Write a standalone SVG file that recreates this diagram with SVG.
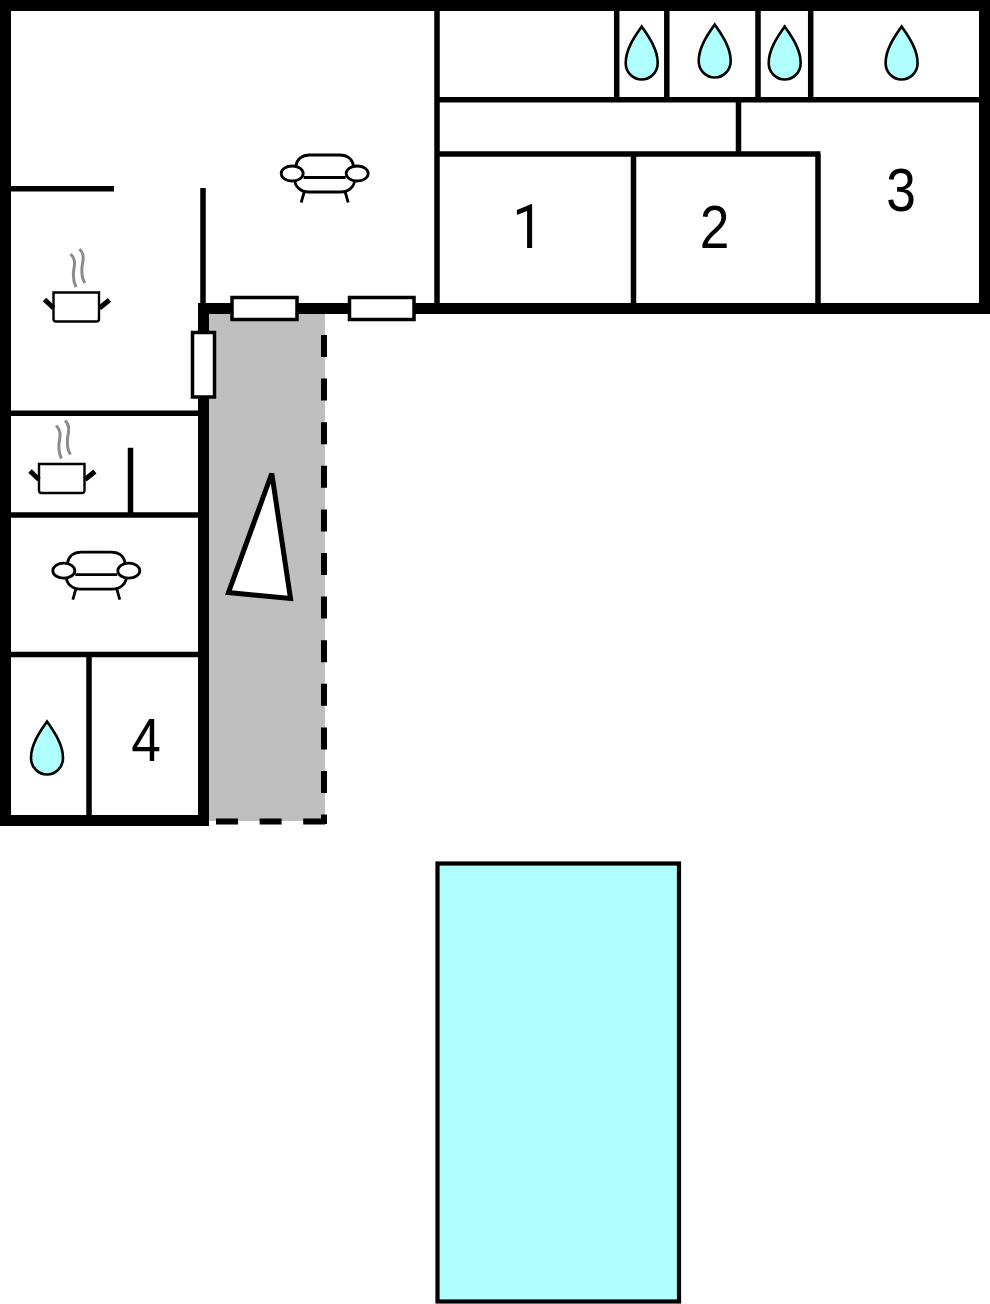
<svg xmlns="http://www.w3.org/2000/svg" width="990" height="1304" viewBox="0 0 990 1304">
<style>
.wall{fill:#000}
.thin{stroke:#000;stroke-width:5.5;fill:none}
.win{fill:#fff;stroke:#000;stroke-width:3.5}
.water{fill:#b0ffff;stroke:#000}
.num{font-family:"Liberation Sans",Arial,sans-serif;font-size:62px;fill:#000;text-anchor:middle}
.one{font-family:Roboto,"Liberation Sans",sans-serif}
.dash{stroke:#000;stroke-width:6;stroke-dasharray:22 21.6;fill:none}
.line{fill:none;stroke:#000;stroke-width:2.8}
.steam{fill:none;stroke:#8c8c8c;stroke-width:3}
</style>
<defs>
<g id="sofa">
<path class="line" d="M-29-7C-28-14-23-18.500-15-18.500H15C23-18.500 28-14 29-7"/>
<path class="line" d="M-30 6C-30 13-24 18.500-16 18.500H16C24 18.500 30 13 30 6"/>
<path class="line" d="M-21 4H21"/>
<path class="line" d="M-20.500 18.500L-23.500 29M20.500 18.500L23.500 29"/>
<ellipse class="line" style="fill:#fff" cx="-32.500" cy="0" rx="11" ry="7.500"/>
<ellipse class="line" style="fill:#fff" cx="32.500" cy="0" rx="11" ry="7.500"/>
</g>
<g id="pot">
<path d="M53.500 292.500H99V319Q99 321.500 96.500 321.500H56Q53.500 321.500 53.500 319Z" fill="#fff" stroke="#000" stroke-width="2.400"/>
<path d="M44.500 299.500L53.500 308M109.500 300L99.500 308" fill="none" stroke="#000" stroke-width="5"/>
<path class="steam" d="M70.500 254C77 260 74 266 73.500 272C73 278 74 283 76 287"/>
<path class="steam" d="M79.500 249C85 254 83 261 82 267C81.500 273 81.500 278 85 283"/>
</g>
<path id="drop" class="water" stroke-width="2.600" d="M0 1.500C5 9 16 23 16 38C16 48 8 54.500 0 54.500C-8 54.500-16 48-16 38C-16 23-5 9 0 1.500Z"/>
</defs>
<rect width="990" height="1304" fill="#fff"/>
<g id="terrace">
<rect x="209" y="314" width="116" height="507" fill="#bfbfbf"/>
<line class="dash" x1="324" y1="335" x2="324" y2="824"/>
<line class="dash" x1="216" y1="821.500" x2="327" y2="821.500"/>
<path d="M271.800 473.500L228.500 592.500L290.500 598.500Z" fill="#fff" stroke="#000" stroke-width="5"/>
</g>
<g id="walls">
<path class="wall" fill-rule="evenodd" d="M0 0H990V314H209V826H0ZM11 11V815H198V303H979V11Z"/>
<path class="thin" d="M11 188.800H114M203 188V303M11 413.300H198M11 515H198M130.500 447.700V515M11 654.500H198M89 654.500V815M437 11V303M437 99.700H979M616.700 11V99.700M666.800 11V99.700M758 11V99.700M810.700 11V99.700M738.500 99.700V154M437 154H820.500M633.500 154V303M818 154V303"/>
</g>
<g id="windows">
<rect class="win" x="232" y="297.500" width="65" height="22"/>
<rect class="win" x="349.500" y="297.500" width="64.500" height="22"/>
<rect class="win" x="192.500" y="332.500" width="22" height="64.500"/>
</g>
<g id="living-1"><use href="#sofa" x="324.700" y="173.500"/></g>
<g id="living-2"><use href="#sofa" x="96.300" y="570.700"/></g>
<g id="kitchen-1"><use href="#pot"/></g>
<g id="kitchen-2"><use href="#pot" x="-14.500" y="171.500"/></g>
<g id="bath-1"><use href="#drop" x="641.700" y="25"/></g>
<g id="bath-2"><use href="#drop" x="714.700" y="23"/></g>
<g id="bath-3"><use href="#drop" x="784.700" y="25"/></g>
<g id="bath-4"><use href="#drop" x="901.600" y="25"/></g>
<g id="bath-5"><use href="#drop" x="47" y="720"/></g>
<g id="bedroom-1"><text class="num one" transform="translate(528 247.500) scale(.9 1)">1</text></g>
<g id="bedroom-2"><text class="num" transform="translate(714.500 247.500) scale(.86 1)">2</text></g>
<g id="bedroom-3"><text class="num" transform="translate(901 210.500) scale(.86 1)">3</text></g>
<g id="bedroom-4"><text class="num" transform="translate(146 760.500) scale(.86 1)">4</text></g>
<g id="pool"><rect class="water" stroke-width="4.200" x="437.500" y="863.500" width="241.500" height="438"/></g>
</svg>
